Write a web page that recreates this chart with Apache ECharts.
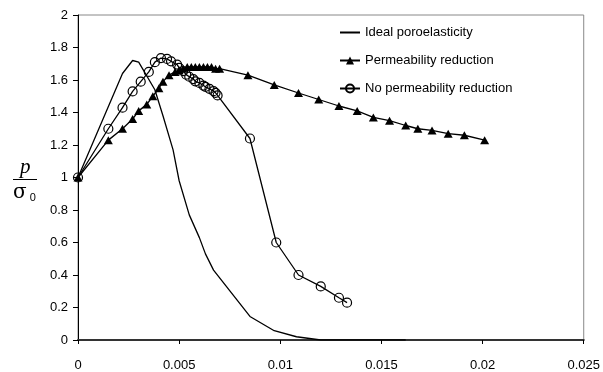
<!DOCTYPE html>
<html>
<head>
<meta charset="utf-8">
<script src="https://cdn.jsdelivr.net/npm/echarts@6/dist/echarts.min.js"></script>
<style>
  html, body { margin: 0; padding: 0; background: #fff; }
  #chart { width: 603px; height: 372px; }
</style>
</head>
<body>
<div id="chart"></div>
<script>
// values
const idealX = [0, 0.0022, 0.0027, 0.003, 0.0038, 0.0042, 0.0047, 0.005, 0.0055, 0.006, 0.0063, 0.0067, 0.0085, 0.0097, 0.0108, 0.012, 0.0162];
const idealY = [1, 1.64, 1.72, 1.71, 1.54, 1.38, 1.17, 0.98, 0.77, 0.63, 0.53, 0.43, 0.145, 0.057, 0.02, 0, 0];

const permX = [0, 0.0015, 0.0022, 0.0027, 0.003, 0.0034, 0.0037, 0.004, 0.0042, 0.0045, 0.0048, 0.005,
  0.0052, 0.0054, 0.0056, 0.0058, 0.006, 0.0062, 0.0064, 0.0066, 0.0068, 0.007,
  0.0084, 0.0097, 0.0109, 0.0119, 0.0129, 0.0138, 0.0146, 0.0154, 0.0162, 0.0168, 0.0175, 0.0183, 0.0191, 0.0201];
const permY = [1, 1.23, 1.3, 1.36, 1.41, 1.45, 1.5, 1.55, 1.59, 1.63, 1.65, 1.66,
  1.67, 1.68, 1.68, 1.68, 1.68, 1.68, 1.68, 1.68, 1.67, 1.67,
  1.63, 1.57, 1.52, 1.48, 1.44, 1.41, 1.37, 1.35, 1.32, 1.3, 1.29, 1.27, 1.26, 1.23];

const noPermX = [0, 0.0015, 0.0022, 0.0027, 0.0031, 0.0035, 0.0038, 0.0041, 0.0044, 0.0046, 0.0049, 0.005, 0.0052,
  0.00535, 0.0055, 0.0057, 0.0058, 0.006, 0.0062, 0.0063, 0.0065, 0.0067, 0.0068, 0.0069,
  0.0085, 0.0098, 0.0109, 0.012, 0.0129, 0.0133];
const noPermY = [1, 1.3, 1.43, 1.53, 1.59, 1.65, 1.71, 1.735, 1.73, 1.715, 1.695, 1.675, 1.655,
  1.633, 1.62, 1.606, 1.592, 1.582, 1.566, 1.558, 1.546, 1.531, 1.521, 1.505,
  1.24, 0.6, 0.4, 0.33, 0.26, 0.23];

const xTicks = [0, 0.005, 0.01, 0.015, 0.02, 0.025];
const seriesNames = ['Ideal poroelasticity', 'Permeability reduction', 'No permeability reduction'];

const zip = (xs, ys) => xs.map((x, i) => [x, ys[i]]);

const chart = echarts.init(document.getElementById('chart'));

chart.setOption({
  animation: false,
  textStyle: { fontFamily: 'Liberation Sans, Arial, sans-serif' },
  grid: {
    left: 78, right: 17, top: 15, bottom: 30,
    show: true, borderColor: '#888', borderWidth: 1
  },
  legend: {
    orient: 'vertical',
    left: 334, top: 20,
    itemWidth: 20, itemHeight: 10, itemGap: 13,
    textStyle: { fontSize: 13, color: '#000', lineHeight: 15 },
    data: [
      { name: seriesNames[0], itemStyle: { opacity: 0 } },
      seriesNames[1],
      seriesNames[2]
    ]
  },
  xAxis: {
    type: 'value',
    min: 0, max: 0.025, interval: 0.005,
    axisLine: { lineStyle: { color: '#333', width: 2 } },
    axisTick: { show: true, length: 4, lineStyle: { color: '#000' } },
    axisLabel: {
      margin: 19, fontSize: 13, color: '#000',
      formatter: v => xTicks.find(t => Math.abs(t - v) < 1e-9) !== undefined ? String(+v.toFixed(3)) : ''
    },
    splitLine: { show: false }
  },
  yAxis: {
    type: 'value',
    min: 0, max: 2, interval: 0.2,
    axisLine: { show: true, lineStyle: { color: '#000', width: 1 } },
    axisTick: { show: true, length: 5, lineStyle: { color: '#000' } },
    axisLabel: {
      margin: 10, fontSize: 13, color: '#000',
      formatter: v => String(+v.toFixed(1))
    },
    splitLine: { show: false }
  },
  graphic: [
    {
      type: 'text', left: 20, top: 157,
      style: { text: 'p', font: 'italic 21px "Liberation Serif", serif', fill: '#000' }
    },
    {
      type: 'line',
      shape: { x1: 13, y1: 179.5, x2: 37, y2: 179.5 },
      style: { stroke: '#000', lineWidth: 1 }
    },
    {
      type: 'text', left: 13, top: 183,
      style: {
        text: '{s|σ}{sub| 0}',
        rich: {
          s: { font: '20px "DejaVu Serif", serif', fill: '#000' },
          sub: { font: '11px "Liberation Sans", sans-serif', fill: '#000', padding: [10, 0, 0, 0] }
        }
      }
    }
  ],
  series: [
    {
      name: seriesNames[0],
      type: 'line',
      data: zip(idealX, idealY),
      symbol: 'none',
      lineStyle: { color: '#000', width: 1.3 },
      itemStyle: { color: '#000' },
      z: 2
    },
    {
      name: seriesNames[1],
      type: 'line',
      data: zip(permX, permY),
      symbol: 'triangle',
      symbolSize: [9, 8],
      lineStyle: { color: '#000', width: 1.3 },
      itemStyle: { color: '#000' },
      z: 3
    },
    {
      name: seriesNames[2],
      type: 'line',
      data: zip(noPermX, noPermY),
      symbol: 'circle',
      symbolSize: 9,
      lineStyle: { color: '#000', width: 1.3 },
      itemStyle: { color: 'rgba(255,255,255,0)', borderColor: '#000', borderWidth: 1.2 },
      z: 4
    }
  ]
});
</script>
</body>
</html>
